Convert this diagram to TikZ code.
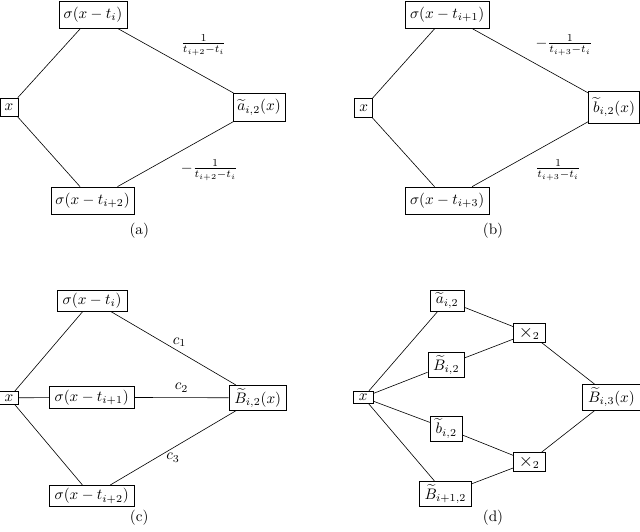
\documentclass[tikz,border=0pt]{standalone}
\usepackage{amsmath}
\usepackage{tikz}

\begin{document}
\begin{tikzpicture}
		[box/.style={rectangle,draw=black,inner xsep=3pt,inner ysep=4pt},
		 sbox/.style={rectangle,draw=black,inner xsep=3.5pt,inner ysep=2pt},]
		\useasboundingbox (0,0) rectangle (14.8,12.28);
		
		% (a)
		\node[box] (xa) at (0.21,9.80){$x$};
		\node[box] (sa1) at (2.15,11.94){$\sigma(x-t_i)$};
		\node[box] (sa2) at (2.14,7.64){$\sigma(x-t_{i+2})$};
		\node[box] (at) at (5.99,9.80){$\widetilde{a}_{i,2}(x)$};
		\draw (xa) -- (sa1);
		\draw (xa) -- (sa2);
		\draw (sa1) -- (at) node[midway,above right]{$\frac{1}{t_{i+2}-t_i}$};
		\draw (sa2) -- (at) node[midway,below right]{$-\frac{1}{t_{i+2}-t_i}$};
		\node (capa) at (3.22,6.94){(a)};
		
		% (b)
		\node[box] (xb) at (8.41,9.78){$x$};
		\node[box] (sb1) at (10.34,11.94){$\sigma(x-t_{i+1})$};
		\node[box] (sb3) at (10.34,7.64){$\sigma(x-t_{i+3})$};
		\node[box] (bt) at (14.20,9.80){$\widetilde{b}_{i,2}(x)$};
		\draw (xb) -- (sb1);
		\draw (xb) -- (sb3);
		\draw (sb1) -- (bt) node[midway,above right]{$-\frac{1}{t_{i+3}-t_i}$};
		\draw (sb3) -- (bt) node[midway,below right]{$\frac{1}{t_{i+3}-t_i}$};
		\node (capb) at (11.40,6.94){(b)};
		
		% (c)
		\node[sbox] (xc) at (0.21,3.08){$x$};
		\node[sbox] (sc1) at (2.13,5.33){$\sigma(x-t_i)$};
		\node[sbox] (sc2) at (2.12,3.09){$\sigma(x-t_{i+1})$};
		\node[sbox] (sc3) at (2.12,0.81){$\sigma(x-t_{i+2})$};
		\node[sbox] (Bc) at (5.96,3.08){$\widetilde{B}_{i,2}(x)$};
		\draw (xc) -- (sc1);
		\draw (xc) -- (sc2);
		\draw (xc) -- (sc3);
		\draw (sc1) -- (Bc) node[pos=0.55,above]{$c_1$};
		\draw (sc2) -- (Bc) node[midway,above]{$c_2$};
		\draw (sc3) -- (Bc) node[midway,below]{$c_3$};
		\node (capc) at (3.22,0.30){(c)};
		
		% (d)
		\node[sbox] (xd) at (8.40,3.09){$x$};
		\node[sbox] (ad) at (10.34,5.33){$\widetilde{a}_{i,2}$};
		\node[sbox] (Bd1) at (10.32,3.84){$\widetilde{B}_{i,2}$};
		\node[sbox] (bd) at (10.32,2.37){$\widetilde{b}_{i,2}$};
		\node[sbox] (Bd2) at (10.30,0.86){$\widetilde{B}_{i+1,2}$};
		\node[sbox] (m1) at (12.24,4.58){$\text{\large$\times$}_2$};
		\node[sbox] (m2) at (12.24,1.60){$\text{\large$\times$}_2$};
		\node[sbox] (Bd3) at (14.14,3.09){$\widetilde{B}_{i,3}(x)$};
		\foreach \n in {ad,Bd1,bd,Bd2}
			\draw (xd) -- (\n);
		\draw (ad) -- (m1);
		\draw (Bd1) -- (m1);
		\draw (bd) -- (m2);
		\draw (Bd2) -- (m2);
		\draw (m1) -- (Bd3);
		\draw (m2) -- (Bd3);
		\node (capd) at (11.40,0.30){(d)};
		
	\end{tikzpicture}
\end{document}
